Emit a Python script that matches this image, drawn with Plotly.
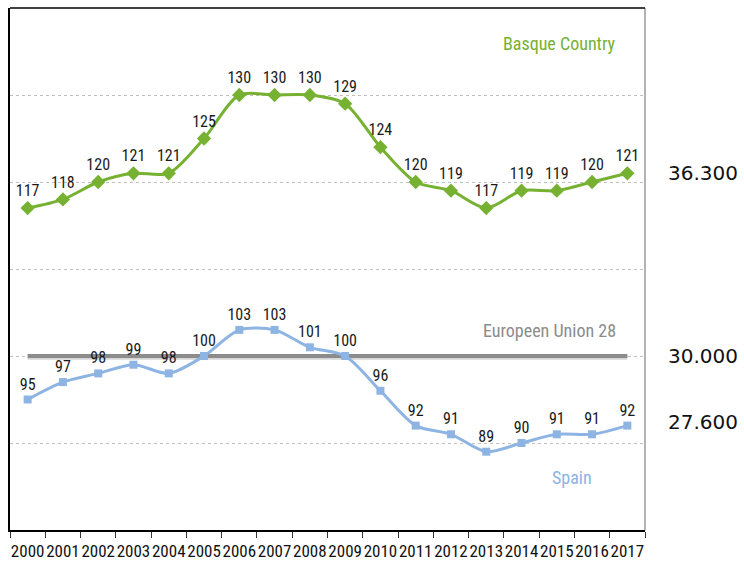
import plotly.graph_objects as go

years = [str(y) for y in range(2000, 2018)]
basque = [117, 118, 120, 121, 121, 125, 130, 130, 130, 129, 124, 120, 119, 117, 119, 119, 120, 121]
spain = [95, 97, 98, 99, 98, 100, 103, 103, 101, 100, 96, 92, 91, 89, 90, 91, 91, 92]
eu = [100] * 18
right_labels = ["36.300", "30.000", "27.600"]
right_label_y = [121, 100, 92.4]

GREEN = "#76b132"
BLUE = "#8db4e2"
GRAY = "#8c8c8c"
NARROW = "Liberation Sans Narrow, Arial Narrow, Roboto Condensed, Liberation Sans, sans-serif"

fig = go.Figure()

fig.add_trace(go.Scatter(x=years, y=[v - 0.15 for v in eu], mode="lines",
                         line=dict(color="#d6d6d6", width=5), hoverinfo="skip", showlegend=False))
fig.add_trace(go.Scatter(x=years, y=eu, mode="lines",
                         line=dict(color=GRAY, width=4), showlegend=False))

fig.add_trace(go.Scatter(x=years, y=basque, mode="lines+markers+text",
                         line=dict(color=GREEN, width=3, shape="spline", smoothing=0.8),
                         marker=dict(symbol="diamond", size=11, color=GREEN),
                         text=[str(v) for v in basque], textposition="top center",
                         textfont=dict(family=NARROW, size=16, color="#1a1a1a"),
                         showlegend=False))

fig.add_trace(go.Scatter(x=years, y=spain, mode="lines+markers+text",
                         line=dict(color=BLUE, width=3, shape="spline", smoothing=0.8),
                         marker=dict(symbol="square", size=8, color=BLUE),
                         text=[str(v) for v in spain], textposition="top center",
                         textfont=dict(family=NARROW, size=16, color="#1a1a1a"),
                         showlegend=False))

annotations = []
for t, yv in zip(right_labels, right_label_y):
    annotations.append(dict(text=t, xref="paper", yref="y", x=1.1496, y=yv,
                            xanchor="right", yanchor="middle", showarrow=False,
                            font=dict(family="DejaVu Sans, Verdana, sans-serif", size=20, color="#111111")))

annotations.append(dict(text="Basque Country", xref="paper", yref="y", x=0.866, y=135.9,
                        xanchor="center", showarrow=False, font=dict(family=NARROW, size=18, color=GREEN)))
annotations.append(dict(text="Europeen Union 28", xref="paper", yref="y", x=0.849, y=102.9,
                        xanchor="center", showarrow=False, font=dict(family=NARROW, size=18, color="#8c8c8c")))
annotations.append(dict(text="Spain", xref="paper", yref="y", x=0.885, y=86,
                        xanchor="center", showarrow=False, font=dict(family=NARROW, size=18, color=BLUE)))

fig.update_layout(
    width=744, height=566,
    margin=dict(l=10, r=99, t=8, b=36),
    paper_bgcolor="white", plot_bgcolor="white",
    annotations=annotations,
    shapes=[dict(type="line", xref="paper", yref="paper", x0=1, x1=1, y0=0, y1=1,
                 line=dict(color="#9a9a9a", width=1.5)),
            dict(type="line", xref="paper", yref="paper", x0=0, x1=1, y0=1, y1=1,
                 line=dict(color="#000000", width=1.5))],
)

fig.update_xaxes(type="category", range=[-0.5, 17.5], showgrid=False, automargin=False,
                 showline=True, linecolor="#000000", linewidth=1.5, mirror=False,
                 ticks="outside", tickson="boundaries", ticklen=6, tickcolor="#333333",
                 tickangle=0, ticklabelstandoff=5,
                 tickfont=dict(family=NARROW, size=17, color="#111111"))
fig.update_yaxes(range=[80, 140], dtick=10, showticklabels=False, automargin=False,
                 showgrid=True, gridcolor="#c0c0c0", griddash="dot", gridwidth=1,
                 showline=True, linecolor="#000000", linewidth=1.5, zeroline=False, ticks="")

fig.write_html("out.html", config={"displayModeBar": False},
               post_script="document.body.style.margin='0';document.body.style.overflow='hidden';window.dispatchEvent(new Event('resize'));")
